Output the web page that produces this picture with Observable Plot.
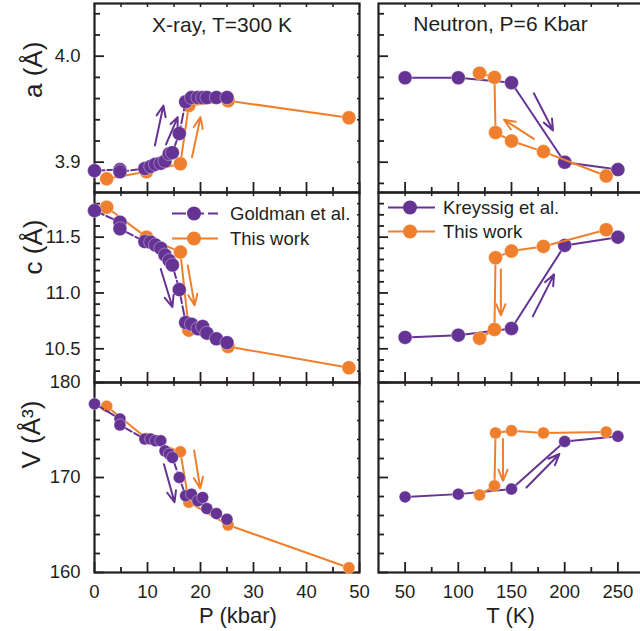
<!DOCTYPE html>
<html><head><meta charset="utf-8">
<script src="https://cdn.jsdelivr.net/npm/d3@7"></script>
<script src="https://cdn.jsdelivr.net/npm/@observablehq/plot@0.6"></script>
<style>
body{margin:0;background:#fff;overflow:hidden}
#chart{position:relative;width:640px;height:631px;overflow:hidden;background:#fff}
#chart svg{position:absolute;overflow:visible;background:transparent}
</style></head><body><div id="chart"></div>
<script>
const FONT = '"Liberation Sans", Arial, Helvetica, sans-serif';
const INK = "#231f20";
const PURPLE = "#653394";
const ORANGE = "#ef7f2c";

// ---- Left column: X-ray, T=300 K, versus pressure P (kbar) ----
const P_goldman = [0, 4.8, 4.8, 9.5, 10.6, 11.5, 12.5, 13.3, 14.1, 14.7, 16.0, 17.2, 18.3, 19.5, 20.4, 21.2, 23.0, 25.0];
const a_goldman = [3.892, 3.893, 3.891, 3.894, 3.896, 3.898, 3.899, 3.901, 3.908, 3.909, 3.927, 3.957, 3.961, 3.961, 3.961, 3.961, 3.961, 3.961];
const c_goldman = [11.738, 11.634, 11.575, 11.46, 11.455, 11.43, 11.40, 11.34, 11.29, 11.25, 11.03, 10.735, 10.72, 10.68, 10.70, 10.64, 10.59, 10.555];
const V_goldman = [177.75, 176.17, 175.53, 174.05, 174.05, 173.87, 173.87, 172.8, 172.47, 172.1, 170.0, 168.07, 168.25, 167.54, 167.9, 166.73, 166.2, 165.6];
const P_this = [2.3, 9.8, 16.2, 17.8, 25.2, 48];
const a_thisP = [3.8843, 3.891, 3.8985, 3.9535, 3.958, 3.9419];
const c_thisP = [11.768, 11.50, 11.366, 10.667, 10.52, 10.33];
const V_thisP = [177.5, 174.1, 172.7, 167.4, 165.0, 160.5];

// ---- Right column: Neutron, P=6 kbar, versus temperature T (K) ----
const T_kreyssig = [50, 100, 150, 200, 250];
const a_kreyssig = [3.9796, 3.9796, 3.975, 3.900, 3.893];
const c_kreyssig = [10.602, 10.622, 10.682, 11.426, 11.50];
const V_kreyssig = [167.96, 168.25, 168.78, 173.8, 174.33];
const T_this = [120, 134, 135, 150, 180, 239];
const a_thisT = [3.984, 3.980, 3.928, 3.920, 3.910, 3.887];
const c_thisT = [10.593, 10.673, 11.316, 11.375, 11.417, 11.566];
const V_thisT = [168.17, 169.12, 174.69, 174.93, 174.69, 174.79];

// ---- Hysteresis arrows: [x1, y1, x2, y2, series] ----
const arrows_aP = [[11.4, 3.9158, 13.0, 3.9535, "g"], [13.5, 3.9167, 15.7, 3.9425, "g"], [18.4, 3.9047, 20.0, 3.9425, "t"]];
const arrows_cP = [[12.5, 11.215, 14.7, 10.874, "g"], [17.6, 11.247, 18.9, 10.889, "t"]];
const arrows_VP = [[13.1, 171.4, 15.1, 167.4, "g"], [18.8, 172.85, 19.95, 168.85, "t"]];
const arrows_aT = [[171, 3.965, 189, 3.930, "k"], [171, 3.922, 143, 3.940, "t"]];
const arrows_cT = [[140, 11.21, 140, 10.80, "t"], [170, 10.79, 190, 11.167, "k"]];
const arrows_VT = [[142, 174.05, 142, 169.65, "t"], [164, 168.94, 195, 172.47, "k"]];

// ---- Ticks ----
const P_major = [0, 10, 20, 30, 40, 50];
const P_minor = [5, 15, 25, 35, 45];
const T_major = [50, 100, 150, 200, 250];
const T_minor = [75, 125, 175, 225];
const a_major = [3.9, 4.0];
const a_minor = [3.88, 3.92, 3.94, 3.96, 3.98, 4.02, 4.04];
const c_major = [10.5, 11.0, 11.5];
const c_minor = [10.3, 10.4, 10.6, 10.7, 10.8, 10.9, 11.1, 11.2, 11.3, 11.4, 11.6, 11.7, 11.8];
const V_major = [160, 170, 180];
const V_minor = [162, 164, 166, 168, 172, 174, 176, 178];

// ---- Texts ----
const titleLeft = "X-ray, T=300 K";
const titleRight = "Neutron, P=6 Kbar";
const yTitles = ["a (Å)", "c (Å)", "V (Å³)"];
const xTitles = ["P (kbar)", "T (K)"];
const legendLeft = ["Goldman et al.", "This work"];
const legendRight = ["Kreyssig et al.", "This work"];

const zip = (xs, ys) => xs.map((x, i) => ({x, y: ys[i]}));
const colorOf = s => (s === "t" ? ORANGE : PURPLE);
const chart = document.getElementById("chart");

function panel(o) {
  const marks = [Plot.frame({stroke: INK, strokeWidth: 2.2})];
  marks.push(Plot.axisX(o.xMajor, {anchor: "bottom", tickSize: -10, fill: "none", stroke: INK, strokeWidth: 1.8, label: null}));
  marks.push(Plot.axisX(o.xMinor, {anchor: "bottom", tickSize: -5, fill: "none", stroke: INK, strokeWidth: 1.8, label: null}));
  marks.push(Plot.axisX(o.xMajor.concat(o.xMinor), {anchor: "top", tickSize: -3, fill: "none", stroke: INK, strokeWidth: 1.5, label: null}));
  marks.push(Plot.axisY(o.yMajor, {anchor: "left", tickSize: -10, fill: "none", stroke: INK, strokeWidth: 1.8, label: null}));
  marks.push(Plot.axisY(o.yMinor, {anchor: "left", tickSize: -6, fill: "none", stroke: INK, strokeWidth: 1.8, label: null}));
  if (o.mirrorY) marks.push(Plot.axisY(o.yMajor.concat(o.yMinor), {anchor: "right", tickSize: -3, fill: "none", stroke: INK, strokeWidth: 1.5, label: null}));
  if (o.xLabels) marks.push(Plot.axisX(o.xMajor, {anchor: "bottom", tickSize: 0, tickPadding: 12, fontSize: 18.5, fill: INK, label: null}));
  if (o.yLabels) marks.push(Plot.axisY(o.yMajor, {anchor: "left", tickSize: 0, tickPadding: 14, fontSize: 18.5, fill: INK, label: null, tickFormat: o.yFmt}));
  for (const s of o.series) {
    const d = zip(s.x, s.y);
    marks.push(Plot.line(d, {x: "x", y: "y", stroke: s.color, strokeWidth: 2, strokeDasharray: s.dash || null}));
    marks.push(Plot.dot(d, {x: "x", y: "y", r: o.r, fill: s.color, stroke: "white", strokeWidth: 0.6, strokeOpacity: 0.6}));
  }
  marks.push(Plot.arrow(o.arrows, {x1: d => d[0], y1: d => d[1], x2: d => d[2], y2: d => d[3], stroke: d => colorOf(d[4]), strokeWidth: 2, headLength: 9, headAngle: 45}));
  for (const t of (o.texts || [])) marks.push(Plot.text([t.text], {frameAnchor: t.anchor, dx: t.dx || 0, dy: t.dy || 0, rotate: t.rotate || 0, fontSize: t.size, fill: INK, lineAnchor: "middle"}));
  const svg = Plot.plot({
    width: o.width, height: o.height,
    marginLeft: o.ml, marginRight: o.mr, marginTop: o.mt, marginBottom: o.mb,
    x: {domain: o.xDomain},
    y: {domain: o.yDomain},
    color: {type: "identity"},
    style: {fontFamily: FONT, color: INK, background: "transparent", overflow: "visible"},
    marks
  });
  svg.style.position = "absolute";
  svg.style.left = o.left + "px";
  svg.style.top = o.top + "px";
  chart.append(svg);
}

const L = {left: 0, width: 360, ml: 94, mr: 1, xDomain: [0, 50], xMajor: P_major, xMinor: P_minor, mirrorY: true, yLabels: true};
const R = {left: 370, width: 274, ml: 8, mr: 0, xDomain: [25, 275], xMajor: T_major, xMinor: T_minor, mirrorY: false, yLabels: false};
const row1 = {top: 0, height: 192, mt: 3, mb: 0, yDomain: [3.8714, 4.0497], yMajor: a_major, yMinor: a_minor, yFmt: d3.format(".1f"), r: 7};
const row2 = {top: 192, height: 190, mt: 0, mb: 0, yDomain: [10.198, 11.9], yMajor: c_major, yMinor: c_minor, yFmt: d3.format(".1f"), r: 7};
const row3 = {top: 382, height: 249, mt: 0, mb: 59, yDomain: [160, 180], yMajor: V_major, yMinor: V_minor, yFmt: d => d, r: 6};

const leftSeries = (yg, yt) => [
  {x: P_this, y: yt, color: ORANGE},
  {x: P_goldman, y: yg, color: PURPLE, dash: "10,3"}
];
const rightSeries = (yk, yt) => [
  {x: T_kreyssig, y: yk, color: PURPLE},
  {x: T_this, y: yt, color: ORANGE}
];

panel({...L, ...row1, series: leftSeries(a_goldman, a_thisP), arrows: arrows_aP, texts: [
  {text: titleLeft, anchor: "top", dx: -5, dy: 22, size: 21},
  {text: yTitles[0], anchor: "left", dx: -61, dy: 0, rotate: -90, size: 26}
]});
panel({...L, ...row2, series: leftSeries(c_goldman, c_thisP), arrows: arrows_cP, texts: [
  {text: yTitles[1], anchor: "left", dx: -61, dy: -13, rotate: -90, size: 26}
]});
panel({...L, ...row3, xLabels: true, series: leftSeries(V_goldman, V_thisP), arrows: arrows_VP, texts: [
  {text: yTitles[2], anchor: "left", dx: -63, dy: -9, rotate: -90, size: 26},
  {text: xTitles[0], anchor: "bottom", dx: 11, dy: 43, size: 22}
]});
panel({...R, ...row1, series: rightSeries(a_kreyssig, a_thisT), arrows: arrows_aT, texts: [
  {text: titleRight, anchor: "top", dx: -11, dy: 21, size: 21}
]});
panel({...R, ...row2, series: rightSeries(c_kreyssig, c_thisT), arrows: arrows_cT});
panel({...R, ...row3, xLabels: true, series: rightSeries(V_kreyssig, V_thisT), arrows: arrows_VT, texts: [
  {text: xTitles[1], anchor: "bottom", dx: -1, dy: 43, size: 22}
]});

// ---- Legends ----
function legend(x0, x1, xm, xt, ys, labels, styles) {
  const svg = d3.create("svg").attr("width", 640).attr("height", 631)
    .style("left", "0px").style("top", "0px").style("pointer-events", "none");
  labels.forEach((lab, i) => {
    const s = styles[i];
    svg.append("line").attr("x1", x0).attr("x2", x1).attr("y1", ys[i]).attr("y2", ys[i])
      .attr("stroke", s.color).attr("stroke-width", 2).attr("stroke-dasharray", s.dash || null);
    svg.append("circle").attr("cx", xm).attr("cy", ys[i]).attr("r", 7).attr("fill", s.color);
    svg.append("text").attr("x", xt).attr("y", ys[i]).attr("dy", "0.35em")
      .attr("font-family", FONT).attr("font-size", 18.5).attr("fill", INK).text(lab);
  });
  chart.append(svg.node());
}
legend(172, 218, 194, 230, [213.5, 238.5], legendLeft, [{color: PURPLE, dash: "14,4"}, {color: ORANGE}]);
legend(388, 435, 410, 443, [207.5, 231.5], legendRight, [{color: PURPLE}, {color: ORANGE}]);
</script></body></html>
